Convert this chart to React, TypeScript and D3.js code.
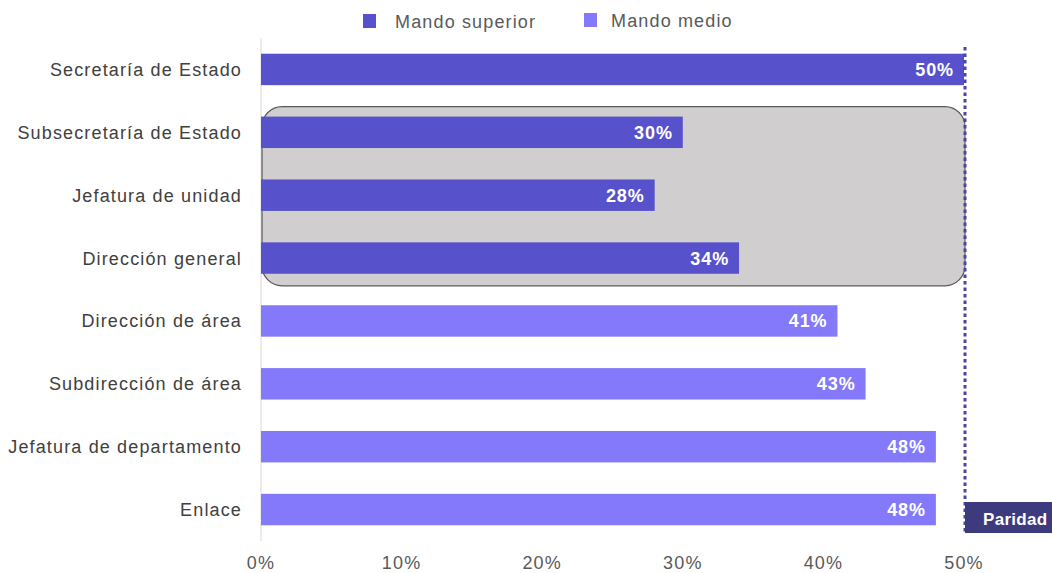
import React from "react";
import * as d3 from "d3";

const categories = [
  "Secretaría de Estado",
  "Subsecretaría de Estado",
  "Jefatura de unidad",
  "Dirección general",
  "Dirección de área",
  "Subdirección de área",
  "Jefatura de departamento",
  "Enlace",
];
const values = [50, 30, 28, 34, 41, 43, 48, 48];
const groups = ["superior", "superior", "superior", "superior", "medio", "medio", "medio", "medio"];
const legendLabels = ["Mando superior", "Mando medio"];
const xTicks = [0, 10, 20, 30, 40, 50];
const highlighted = ["Subsecretaría de Estado", "Dirección general"];
const parity = 50;

const COLORS: Record<string, string> = { superior: "#5752CC", medio: "#8479FB" };
const FONT = "'Liberation Sans', Arial, sans-serif";
const LS = 1.15;

export default function App() {
  const W = 1052, H = 573;
  const x = d3.scaleLinear().domain([0, 50]).range([261, 964]);
  const y = d3.scaleBand<string>().domain(categories).range([38, 541]).paddingInner(0.5).paddingOuter(0.25);
  const bw = y.bandwidth();
  const hTop = (y(highlighted[0]) as number) - 10;
  const hBot = (y(highlighted[1]) as number) + bw + 12;
  const px = x(parity) + 1;

  return (
    <div style={{ position: "fixed", left: 0, top: 0, width: W, height: H, overflow: "hidden" }}>
      <svg width={W} height={H} style={{ display: "block", fontFamily: FONT }}>
        <rect width={W} height={H} fill="#fff" />
        {/* legend */}
        <g>
          <rect x={363} y={14} width={13} height={14} fill={COLORS.superior} />
          <text x={395} y={28} fontSize={18} letterSpacing={LS} fill="#595959">{legendLabels[0]}</text>
          <rect x={584} y={13} width={13} height={14} fill={COLORS.medio} />
          <text x={611} y={27} fontSize={18} letterSpacing={LS} fill="#595959">{legendLabels[1]}</text>
        </g>
        {/* axis line */}
        <line x1={x(0)} x2={x(0)} y1={38} y2={541} stroke="#d9d9d9" strokeWidth={1} />
        {/* highlight box */}
        <rect x={x(0) + 1} y={hTop} width={x(50) - x(0)} height={hBot - hTop} rx={20} ry={20}
          fill="#D0CECE" stroke="#595959" strokeWidth={1.2} />
        {/* bars */}
        {categories.map((c, i) => (
          <g key={c}>
            <rect x={x(0)} y={y(c)} width={x(values[i]) - x(0)} height={bw} fill={COLORS[groups[i]]} />
            <text x={x(values[i]) - 10} y={(y(c) as number) + bw / 2 + 6.5} textAnchor="end"
              fontSize={18} letterSpacing={0.9} fontWeight="bold" fill="#fff">{values[i]}%</text>
            <text x={242} y={(y(c) as number) + bw / 2 + 6.5} textAnchor="end" fontSize={18} letterSpacing={LS} fill="#404040">{c}</text>
          </g>
        ))}
        {/* parity line */}
        <line x1={px} x2={px} y1={47} y2={532} stroke="#4A45A3" strokeWidth={3} strokeDasharray="3.5,3" />
        <rect x={px} y={502} width={W - px} height={31} fill="#3D3A7E" />
        <text x={983} y={525} fontSize={17} letterSpacing={0.3} fontWeight="bold" fill="#fff">Paridad</text>
        {/* x ticks */}
        {xTicks.map((t) => (
          <text key={t} x={x(t)} y={569} textAnchor="middle" fontSize={18} letterSpacing={LS} fill="#595959">{t}%</text>
        ))}
      </svg>
    </div>
  );
}
